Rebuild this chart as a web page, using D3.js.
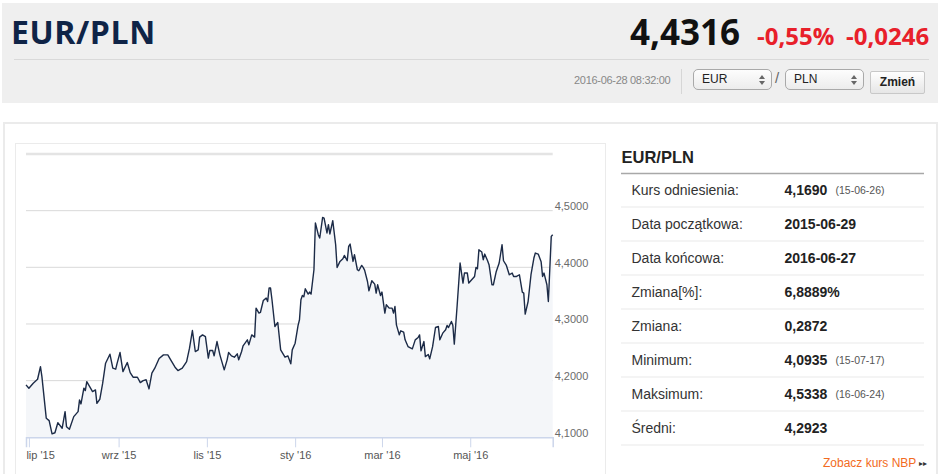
<!DOCTYPE html>
<html>
<head>
<meta charset="utf-8">
<style>
  body { margin: 0; background: #fff; font-family: "Liberation Sans", Arial, sans-serif; }
  #page { position: relative; width: 945px; height: 474px; overflow: hidden; }
  .abs { position: absolute; }
  .sel { position: absolute; top: 69px; height: 19px; border: 1px solid #a9a9a9; border-radius: 5px;
         background: linear-gradient(#fdfdfd, #ececec); font-size: 12px; color: #222; line-height: 19px; }
  .sel span.t { position: absolute; left: 8px; }
  .sel svg { position: absolute; right: 6px; top: 5px; }
</style>
</head>
<body>
<div id="page"></div>
<script src="https://cdn.jsdelivr.net/npm/d3@7"></script>
<script>
// --- header texts
var pair = "EUR/PLN";
var lastRate = "4,4316";
var changePct = "-0,55%";
var changeAbs = "-0,0246";
var stamp = "2016-06-28 08:32:00";

// --- daily EUR/PLN
var dates = [
  "2015-06-29","2015-07-01","2015-07-04","2015-07-07","2015-07-09","2015-07-10","2015-07-13","2015-07-15","2015-07-17","2015-07-19",
  "2015-07-21","2015-07-24","2015-07-26","2015-07-27","2015-07-29","2015-08-01","2015-08-04","2015-08-05","2015-08-06","2015-08-08",
  "2015-08-09","2015-08-10","2015-08-12","2015-08-14","2015-08-16","2015-08-17","2015-08-19","2015-08-21","2015-08-23","2015-08-26",
  "2015-08-28","2015-08-30","2015-08-31","2015-09-02","2015-09-04","2015-09-07","2015-09-09","2015-09-11","2015-09-14","2015-09-16",
  "2015-09-18","2015-09-20","2015-09-22","2015-09-24","2015-09-26","2015-09-29","2015-10-02","2015-10-05","2015-10-07","2015-10-10",
  "2015-10-12","2015-10-15","2015-10-18","2015-10-20","2015-10-22","2015-10-24","2015-10-26","2015-10-27","2015-10-29","2015-10-31",
  "2015-11-02","2015-11-03","2015-11-05","2015-11-06","2015-11-08","2015-11-10","2015-11-13","2015-11-15","2015-11-16","2015-11-18",
  "2015-11-20","2015-11-22","2015-11-23","2015-11-25","2015-11-26","2015-11-29","2015-11-30","2015-12-02","2015-12-04","2015-12-05",
  "2015-12-07","2015-12-08","2015-12-10","2015-12-12","2015-12-13","2015-12-14","2015-12-15","2015-12-16","2015-12-18","2015-12-20",
  "2015-12-22","2015-12-25","2015-12-27","2015-12-28","2015-12-29","2015-12-30","2016-01-01","2016-01-03","2016-01-04","2016-01-05",
  "2016-01-06","2016-01-07","2016-01-08","2016-01-10","2016-01-11","2016-01-12","2016-01-14","2016-01-15","2016-01-17","2016-01-18",
  "2016-01-20","2016-01-21","2016-01-23","2016-01-24","2016-01-25","2016-01-27","2016-01-29","2016-01-30","2016-02-01","2016-02-03",
  "2016-02-04","2016-02-06","2016-02-07","2016-02-08","2016-02-10","2016-02-11","2016-02-13","2016-02-14","2016-02-16","2016-02-17",
  "2016-02-18","2016-02-20","2016-02-21","2016-02-23","2016-02-25","2016-02-26","2016-02-27","2016-02-29","2016-03-01","2016-03-03",
  "2016-03-04","2016-03-06","2016-03-08","2016-03-09","2016-03-10","2016-03-11","2016-03-13","2016-03-14","2016-03-16","2016-03-17",
  "2016-03-19","2016-03-22","2016-03-24","2016-03-26","2016-03-27","2016-03-28","2016-03-30","2016-03-31","2016-04-02","2016-04-03",
  "2016-04-05","2016-04-07","2016-04-09","2016-04-10","2016-04-12","2016-04-14","2016-04-15","2016-04-16","2016-04-18","2016-04-19",
  "2016-04-20","2016-04-22","2016-04-24","2016-04-26","2016-04-27","2016-04-29","2016-04-30","2016-05-02","2016-05-04","2016-05-05",
  "2016-05-06","2016-05-07","2016-05-09","2016-05-10","2016-05-11","2016-05-13","2016-05-14","2016-05-16","2016-05-17","2016-05-19",
  "2016-05-21","2016-05-23","2016-05-24","2016-05-26","2016-05-28","2016-05-30","2016-05-31","2016-06-02","2016-06-04","2016-06-06",
  "2016-06-07","2016-06-08","2016-06-10","2016-06-12","2016-06-14","2016-06-15","2016-06-17","2016-06-19","2016-06-20","2016-06-21",
  "2016-06-23","2016-06-24","2016-06-26","2016-06-27"
];
var rates = [
  4.1925,4.1866,4.1955,4.2025,4.2248,4.2070,4.1336,4.1294,4.1060,4.1080,
  4.1258,4.1160,4.1453,4.1188,4.1142,4.1365,4.1453,4.1660,4.1589,4.1866,
  4.1824,4.1983,4.1895,4.1806,4.1836,4.1600,4.1671,4.1955,4.2308,4.2467,
  4.2220,4.2202,4.2308,4.2496,4.2160,4.2319,4.2142,4.2060,4.2060,4.1966,
  4.2001,4.2015,4.1854,4.2131,4.2220,4.2390,4.2455,4.2455,4.2367,4.2237,
  4.2178,4.2220,4.2337,4.2573,4.2885,4.2514,4.2543,4.2768,4.2808,4.2778,
  4.2397,4.2531,4.2531,4.2437,4.2690,4.2455,4.2190,4.2367,4.2496,4.2437,
  4.2414,4.2473,4.2367,4.2514,4.2614,4.2720,4.2632,4.2808,4.2768,4.3280,
  4.3192,4.3203,4.3415,4.3457,4.3397,4.3634,4.3634,4.3427,4.2955,4.3026,
  4.2543,4.2414,4.2437,4.2367,4.2296,4.2543,4.2661,4.2970,4.3074,4.3427,
  4.3503,4.3480,4.3621,4.3528,4.3563,4.3528,4.3957,4.4783,4.4576,4.4517,
  4.4882,4.4870,4.4606,4.4753,4.4588,4.4823,4.4399,4.3998,4.4104,4.4152,
  4.4210,4.4116,4.4369,4.4411,4.4104,4.4222,4.3957,4.3940,4.4033,4.3998,
  4.3950,4.3750,4.3586,4.3763,4.3704,4.3545,4.3692,4.3503,4.3563,4.3192,
  4.3339,4.3280,4.3280,4.3192,4.3309,4.2985,4.2808,4.2879,4.2856,4.2720,
  4.2602,4.2561,4.2720,4.2761,4.2808,4.2526,4.2690,4.2425,4.2461,4.2384,
  4.2600,4.2938,4.2955,4.2720,4.2838,4.2897,4.2973,4.2938,4.3044,4.2973,
  4.2644,4.3339,4.4076,4.3722,4.3899,4.3899,4.3722,4.3780,4.3839,4.3998,
  4.3975,4.4311,4.4270,4.4134,4.4234,4.4116,4.4046,4.3692,4.3692,4.3927,
  4.4076,4.4399,4.4116,4.4033,4.3869,4.3899,4.3839,4.3839,4.3869,4.3563,
  4.3545,4.3174,4.3397,4.3869,4.4164,4.4252,4.4234,4.4099,4.3839,4.3899,
  4.3692,4.3397,4.4546,4.4576
];

// --- axes
var xTickDates = ["2015-07-01","2015-09-01","2015-11-01","2016-01-01","2016-03-01","2016-05-01"];
var xTickLabels = ["lip '15","wrz '15","lis '15","sty '16","mar '16","maj '16"];
var yTicks = [4.1, 4.2, 4.3, 4.4, 4.5, 4.6];

// --- side table
var rowLabels = ["Kurs odniesienia:","Data początkowa:","Data końcowa:","Zmiana[%]:","Zmiana:","Minimum:","Maksimum:","Średni:"];
var rowValues = ["4,1690","2015-06-29","2016-06-27","6,8889%","0,2872","4,0935","4,5338","4,2923"];
var rowNotes  = ["(15-06-26)","","","","","(15-07-17)","(16-06-24)",""];

var parse = d3.timeParse("%Y-%m-%d");
var series = dates.map(function(d, i) { return { date: parse(d), value: rates[i] }; });

var page = d3.select("#page");

// ---------- header boxes ----------
page.append("div").attr("class", "abs")
  .style("left", "2px").style("top", "3px").style("width", "936px").style("height", "100px")
  .style("background", "#efefef");
page.append("div").attr("class", "abs")
  .style("left", "14px").style("top", "59px").style("width", "915px").style("height", "1px")
  .style("background", "#d9d9d9");

page.append("div").attr("class", "abs")
  .style("left", "574px").style("top", "74px").style("font-size", "11px").style("color", "#888")
  .style("letter-spacing", "-0.3px").text(stamp);
page.append("div").attr("class", "abs")
  .style("left", "681px").style("top", "69px").style("width", "1px").style("height", "25px")
  .style("background", "#d6d6d6");

[["EUR", 693], ["PLN", 785]].forEach(function(s) {
  var b = page.append("div").attr("class", "sel")
    .style("left", s[1] + "px").style("width", "77px");
  b.append("span").attr("class", "t").text(s[0]);
  var a = b.append("svg").attr("width", 6).attr("height", 10);
  a.append("path").attr("d", "M0,4 L3,0 L6,4 Z M0,6 L3,10 L6,6 Z").attr("fill", "#666");
});
page.append("div").attr("class", "abs")
  .style("left", "775px").style("top", "69px").style("font-size", "15px").style("color", "#666").text("/");
page.append("div").attr("class", "abs")
  .style("left", "870px").style("top", "71px").style("width", "53px").style("height", "21px")
  .style("border", "1px solid #c8c8c8").style("border-radius", "2px")
  .style("background", "linear-gradient(#fefefe, #e6e6e6)")
  .style("font-size", "12px").style("font-weight", "700").style("color", "#222")
  .style("text-align", "center").style("line-height", "21px").text("Zmień");

// ---------- panels ----------
page.append("div").attr("class", "abs")
  .style("left", "3px").style("top", "122px").style("width", "931px").style("height", "360px")
  .style("border", "2px solid #ebebeb");
page.append("div").attr("class", "abs")
  .style("left", "15px").style("top", "143px").style("width", "589px").style("height", "340px")
  .style("border", "1px solid #ebebeb");

// ---------- svg layer ----------
var svg = page.append("svg").attr("class", "abs")
  .style("left", "0px").style("top", "0px")
  .attr("width", 945).attr("height", 474);

// header titles
var head = svg.append("g").style("font-family", "'Open Sans', sans-serif").attr("font-weight", 700);
head.append("text").attr("x", 11).attr("y", 43.5).attr("font-size", "32px")
  .attr("letter-spacing", "0.6px").attr("fill", "#0f2447").text(pair);
head.append("text").attr("x", 630).attr("y", 45).attr("font-size", "35px").attr("fill", "#111").text(lastRate);
head.append("text").attr("x", 757).attr("y", 44.5).attr("font-size", "24px").attr("fill", "#e8202a").text(changePct);
head.append("text").attr("x", 846).attr("y", 44.5).attr("font-size", "24px").attr("fill", "#e8202a").text(changeAbs);

// chart
var x = d3.scaleTime()
  .domain([parse("2015-06-29"), parse("2016-06-27")])
  .range([26, 552.7]);
var y = d3.scaleLinear().domain([4.1, 4.6]).range([437.3, 154]);

svg.append("g").selectAll("line")
  .data(yTicks)
  .enter().append("line")
  .attr("x1", 26).attr("x2", 552.7)
  .attr("y1", function(d) { return y(d); })
  .attr("y2", function(d) { return y(d); })
  .attr("stroke", function(d) { return d === 4.6 ? "#e4e4e4" : "#d9d9d9"; })
  .attr("stroke-width", function(d) { return d === 4.6 ? 2.5 : 1; });

var area = d3.area()
  .x(function(d) { return x(d.date); })
  .y0(y(4.1))
  .y1(function(d) { return y(d.value); });
var line = d3.line()
  .x(function(d) { return x(d.date); })
  .y(function(d) { return y(d.value); });

svg.append("path").datum(series).attr("d", area).attr("fill", "#f4f6f9");
svg.append("path").datum(series).attr("d", line)
  .attr("fill", "none").attr("stroke", "#1c2b47").attr("stroke-width", 1.4)
  .attr("stroke-linejoin", "round");

// x axis
var xAxis = d3.axisBottom(x)
  .tickValues(xTickDates.map(parse))
  .tickSize(10).tickPadding(4)
  .tickFormat(function(d, i) { return xTickLabels[i]; });
var gx = svg.append("g").attr("transform", "translate(0," + y(4.1) + ")").call(xAxis);
gx.select(".domain").attr("stroke", "#ccd6eb").attr("stroke-width", 1.5);
gx.selectAll(".tick line").attr("stroke", "#ccd6eb");
gx.selectAll(".tick text")
  .attr("fill", "#555").style("font-size", "11px")
  .style("font-family", "'Liberation Sans', Arial, sans-serif");
gx.selectAll(".tick text").filter(function(d, i) { return i === 0; })
  .attr("text-anchor", "start").attr("x", -3);

// y axis labels on the right
var yAxis = d3.axisRight(y)
  .tickValues(yTicks.filter(function(v) { return v < 4.6; }))
  .tickSize(0).tickPadding(2)
  .tickFormat(function(d) { return d3.format(".4f")(d).replace(".", ","); });
var gy = svg.append("g").attr("transform", "translate(552.7,0)").call(yAxis);
gy.select(".domain").remove();
gy.selectAll(".tick text")
  .attr("fill", "#6b6b6b").attr("dy", "-0.1em").style("font-size", "11px")
  .style("font-family", "'Liberation Sans', Arial, sans-serif");

// ---------- table ----------
svg.append("text").attr("x", 621.5).attr("y", 162.5)
  .attr("font-size", "16.5px").attr("font-weight", "700").attr("fill", "#222")
  .style("font-family", "'Liberation Sans', Arial, sans-serif").text(pair);
svg.append("line").attr("x1", 621).attr("x2", 924).attr("y1", 173.5).attr("y2", 173.5)
  .attr("stroke", "#a8a8a8").attr("stroke-width", 1.5);

var rows = svg.append("g").style("font-family", "'Liberation Sans', Arial, sans-serif");
var row = rows.selectAll("g").data(rowLabels).enter().append("g")
  .attr("transform", function(d, i) { return "translate(0," + (189.5 + i * 34) + ")"; });
row.append("text").attr("x", 631.5).attr("y", 5).attr("font-size", "14px").attr("fill", "#333")
  .text(function(d) { return d; });
row.append("text").attr("x", 784.5).attr("y", 5).attr("font-size", "14px").attr("font-weight", "700").attr("fill", "#222")
  .text(function(d, i) { return rowValues[i]; });
row.append("text").attr("x", 835.5).attr("y", 4.5).attr("font-size", "10.5px").attr("fill", "#555")
  .text(function(d, i) { return rowNotes[i]; });
row.append("line").attr("x1", 621).attr("x2", 924).attr("y1", 17.5).attr("y2", 17.5)
  .attr("stroke", "#e9e9e9").attr("stroke-width", 1);

var more = svg.append("text").attr("x", 823).attr("y", 467)
  .style("font-family", "'Liberation Sans', Arial, sans-serif").attr("font-size", "12px");
more.append("tspan").attr("fill", "#f26b22").text("Zobacz kurs NBP ");
more.append("tspan").attr("fill", "#333").attr("font-size", "8px").attr("dy", -1).text("▸▸");
</script>
</body>
</html>
